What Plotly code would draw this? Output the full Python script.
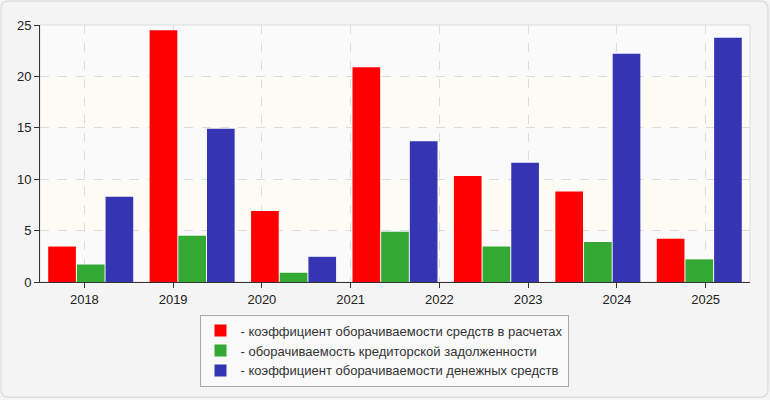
import plotly.graph_objects as go

# tick labels on the visible axis (8 of them) and the 7 bar groups
years = ["2018", "2019", "2020", "2021", "2022", "2023", "2024", "2025"]
groups = ["g1", "g2", "g3", "g4", "g5", "g6", "g7"]

receivables_turnover = [3.45, 24.5, 6.9, 20.9, 10.3, 8.8, 4.2]
payables_turnover = [1.7, 4.5, 0.9, 4.9, 3.45, 3.9, 2.2]
cash_turnover = [8.3, 14.9, 2.45, 13.7, 11.6, 22.2, 23.75]

names = [
    "- коэффициент оборачиваемости средств в расчетах",
    "- оборачиваемость кредиторской задолженности",
    "- коэффициент оборачиваемости денежных средств",
]
colors = ["#ff0000", "#33a933", "#3535b3"]

W, H = 770, 400
L, R, T, B = 40, 20, 25, 117.5
pw, ph = W - L - R, H - T - B

fig = go.Figure()
for vals, name, col in zip([receivables_turnover, payables_turnover, cash_turnover], names, colors):
    fig.add_trace(go.Bar(x=groups, y=vals, name=name, marker_color=col,
                         marker_line_width=0, hoverinfo="y"))

# invisible trace so the year axis gets its categories
fig.add_trace(go.Scatter(x=years, y=[0] * len(years), xaxis="x2", mode="markers",
                         marker_opacity=0, showlegend=False, hoverinfo="skip"))

# light bands between grid lines
shapes = []
for k in range(1, 5, 2):
    shapes.append(dict(type="rect", xref="paper", yref="y", x0=0, x1=1, y0=k * 5, y1=(k + 1) * 5,
                       fillcolor="#fcfcf4", line_width=0, layer="below"))
# plot frame (top/right light)
shapes.append(dict(type="rect", xref="paper", yref="paper", x0=0, x1=1, y0=0, y1=1,
                   line=dict(color="#dddddd", width=1), layer="below"))


# rounded outer card
def px_x(v):
    return (v - L) / pw


def px_y(v):
    return (H - B - v) / ph


r = 8
x0, x1, y0, y1 = 1, W - 2, 1, H - 2
path = (f"M{px_x(x0 + r)},{px_y(y0)} L{px_x(x1 - r)},{px_y(y0)} Q{px_x(x1)},{px_y(y0)} {px_x(x1)},{px_y(y0 + r)} "
        f"L{px_x(x1)},{px_y(y1 - r)} Q{px_x(x1)},{px_y(y1)} {px_x(x1 - r)},{px_y(y1)} "
        f"L{px_x(x0 + r)},{px_y(y1)} Q{px_x(x0)},{px_y(y1)} {px_x(x0)},{px_y(y1 - r)} "
        f"L{px_x(x0)},{px_y(y0 + r)} Q{px_x(x0)},{px_y(y0)} {px_x(x0 + r)},{px_y(y0)} Z")
shapes.append(dict(type="path", xref="paper", yref="paper", path=path,
                   line=dict(color="#dedede", width=1.5), layer="below"))

fig.update_layout(
    width=W, height=H,
    margin=dict(l=L, r=R, t=T, b=B, pad=0),
    paper_bgcolor="#f4f4f4",
    plot_bgcolor="#fafafa",
    font=dict(family="Arial, Liberation Sans, sans-serif", size=12, color="#222222"),
    barmode="group",
    bargap=0.152,
    bargroupgap=0.035,
    shapes=shapes,
    xaxis=dict(type="category", range=[-0.5, len(groups) - 0.5], showticklabels=False,
               showgrid=False, ticks="", showline=True, linecolor="#333333", linewidth=1,
               zeroline=False),
    xaxis2=dict(type="category", overlaying="x", side="bottom", range=[-0.5, len(years) - 0.5],
                categoryorder="array", categoryarray=years,
                showgrid=True, gridcolor="#dcdcdc", griddash="dash", gridwidth=1,
                ticks="outside", ticklen=5, tickcolor="#333333", showline=False,
                tickfont=dict(size=13, color="#222222")),
    yaxis=dict(range=[0, 25], dtick=5, showgrid=True, gridcolor="#dcdcdc", griddash="dash",
               showline=True, linecolor="#333333", linewidth=1, ticks="outside", ticklen=5,
               tickcolor="#333333", zeroline=False, tickfont=dict(size=13, color="#222222")),
    legend=dict(x=(384 - L) / pw, xanchor="center", y=-0.127, yanchor="top",
                bgcolor="#f9f9f9", bordercolor="#aaaaaa", borderwidth=1,
                font=dict(size=13, color="#333333"), traceorder="normal",
                itemwidth=30, tracegroupgap=0),
    hovermode="closest",
)

# page body has a default 8px margin; drop it so the figure sits at the top-left corner
fig.write_html("out.html", config={"displayModeBar": False},
               post_script="document.body.style.margin='0';")
